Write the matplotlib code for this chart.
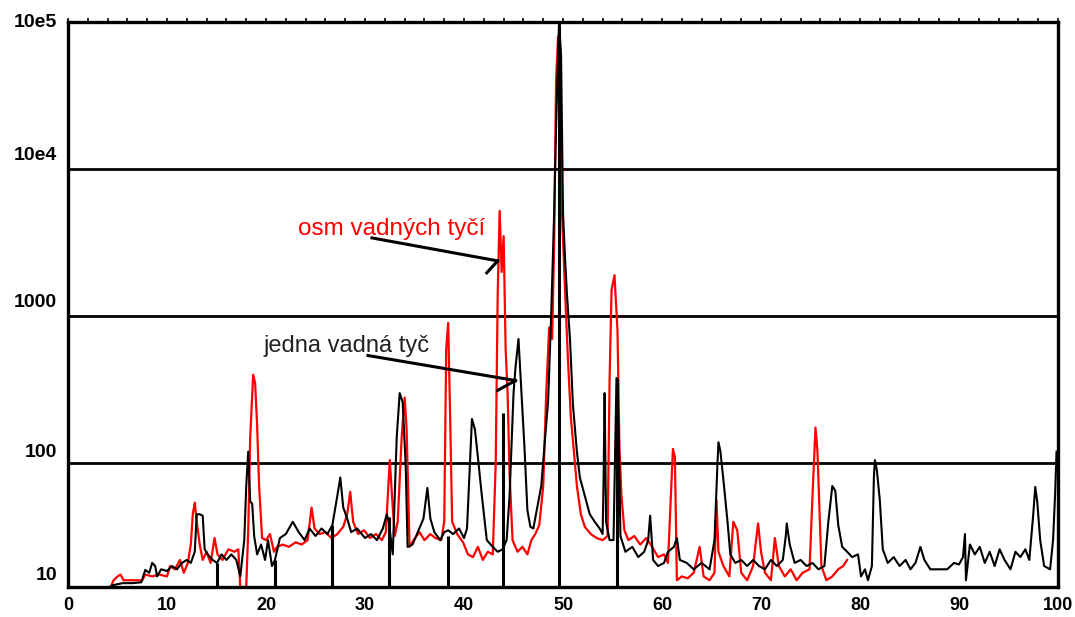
import matplotlib
matplotlib.use("Agg")
import matplotlib.pyplot as plt
from matplotlib.ticker import MultipleLocator, NullFormatter

plt.rcParams['font.family'] = ['Liberation Sans', 'DejaVu Sans']

# ---- data (frequency in Hz, amplitude) ----
black_x = [4.2, 4.5, 5.5, 6.5, 7.4, 7.8, 8.2, 8.5, 8.8, 9.0, 9.4, 10.0, 10.5, 11.0, 11.5, 12.0, 12.4, 12.8,
           13.0, 13.3, 13.6, 13.8, 14.1, 14.6, 15.05, 15.5, 16.0, 16.5, 17.0, 17.4, 17.8, 18.0, 18.2, 18.4,
           18.6, 18.8, 19.1, 19.5, 19.9, 20.2, 20.6, 20.9, 21.4, 22.0, 22.7, 23.3, 23.9, 24.4, 25.0, 25.6,
           26.2, 26.7, 27.2, 27.5, 27.8, 28.2, 28.6, 29.2, 30.0, 30.6, 31.2, 31.8, 32.2, 32.4, 32.8, 33.2,
           33.5, 33.8, 34.1, 34.3, 34.8, 35.4, 35.9, 36.3, 36.6, 37.0, 37.6, 38.0, 38.4, 38.9, 39.5, 40.0,
           40.3, 40.6, 40.8, 41.1, 41.4, 41.8, 42.3, 42.9, 43.4, 43.9, 44.3, 44.6, 45.0, 45.2, 45.5, 45.8,
           46.1, 46.4, 46.7, 47.0, 47.4, 47.8, 48.2, 48.5, 48.8, 49.1, 49.3, 49.6, 49.8, 50.0, 50.2, 50.4,
           50.7, 51.0, 51.4, 51.7, 52.2, 52.7, 53.2, 53.7, 54.0, 54.1, 54.2, 54.35, 54.7, 55.1, 55.4, 55.6,
           55.8, 56.3, 57.0, 57.6, 58.2, 58.6, 58.8, 59.1, 59.6, 60.2, 60.6, 61.2, 61.5, 61.8, 62.5, 63.2,
           64.0, 64.8, 65.3, 65.6, 65.7, 65.9, 66.2, 66.6, 66.9, 67.4, 68.0, 68.6, 69.2, 69.8, 70.4, 71.0,
           71.6, 72.2, 72.5, 72.6, 72.9, 73.4, 74.0, 74.6, 75.2, 75.8, 76.4, 76.8, 77.2, 77.5, 77.8, 78.2,
           78.7, 79.2, 79.8, 80.1, 80.5, 80.8, 81.2, 81.4, 81.5, 81.7, 82.0, 82.3, 82.8, 83.4, 84.0, 84.6,
           85.1, 85.6, 86.1, 86.5, 87.1, 88.0, 88.8, 89.5, 90.0, 90.4, 90.6, 90.7, 91.1, 91.6, 92.1, 92.6,
           93.1, 93.6, 94.1, 94.6, 95.2, 95.7, 96.2, 96.7, 97.1, 97.5, 97.7, 97.9, 98.2, 98.6, 99.2, 99.5,
           99.7, 99.85]
black_y = [14.4, 14.8, 15.3, 15.3, 15.5, 18.8, 18, 21, 20, 17, 19, 18.5, 20, 19, 21, 22, 21, 25,
           45, 45, 44, 26, 24, 22, 21, 24, 22, 24, 22, 17, 30, 70, 120, 55,
           53, 32, 24, 28, 22, 30, 20, 22, 31, 33, 40, 34, 30, 36, 32, 36,
           33, 38, 60, 80, 50, 42, 34, 36, 31, 33, 30, 36, 45, 40, 24, 150,
           300, 260, 100, 27, 28, 35, 42, 68, 42, 34, 30, 34, 35, 33, 36, 31,
           36, 100, 200, 170, 110, 60, 30, 27, 25, 26, 30, 60, 300, 450, 700, 300,
           130, 48, 37, 36, 50, 70, 150, 270, 1000, 5000, 20000, 100000, 60000, 5000, 2500, 1400,
           700, 250, 120, 80, 60, 45, 40, 36, 33, 80, 300, 40, 30, 30, 380, 200,
           32, 25, 27, 23, 25, 30, 44, 22, 20, 21, 25, 27, 31, 22, 21, 19,
           21, 19, 30, 100, 139, 120, 77, 41, 24, 21, 22, 20, 22, 20, 19, 22,
           20, 22, 32, 39, 28, 21, 22, 20, 21, 19, 20, 40, 70, 65, 38, 27,
           25, 23, 24, 17, 19, 16, 20, 80, 105, 90, 56, 26, 21, 23, 20, 22,
           19, 21, 27, 22, 19, 19, 19, 21, 20.5, 23, 33, 16, 28, 24, 27, 21,
           25, 20, 26, 22, 19, 25, 23, 26, 22, 45, 69, 55, 30, 20, 19, 30,
           60, 120]

red_x = [4.3, 4.6, 5.0, 5.3, 5.6, 6.5, 7.5, 7.8, 8.5, 9.2, 10.0, 10.3, 10.8, 11.3, 11.7, 12.1, 12.4, 12.6,
         12.8, 13.0, 13.3, 13.6, 14.0, 14.4, 14.8, 15.1, 15.6, 16.2, 16.8, 17.2, 17.4, 18.0, 18.2, 18.4,
         18.7, 18.9, 19.1, 19.3, 19.6, 20.0, 20.4, 20.8, 21.1, 21.7, 22.3, 23.0, 23.6, 24.2, 24.6, 24.9,
         25.4, 26.0, 26.6, 27.2, 27.8, 28.2, 28.5, 28.8, 29.3, 29.9, 30.5, 31.1, 31.7, 32.1, 32.5, 32.8,
         33.0, 33.3, 33.7, 34.0, 34.2, 34.5, 34.9, 35.5, 36.0, 36.6, 37.1, 37.7, 38.0, 38.2, 38.4, 38.6,
         38.8, 39.3, 39.9, 40.4, 40.9, 41.4, 41.9, 42.4, 42.9, 43.2, 43.4, 43.6, 43.8, 44.0, 44.2, 44.4,
         44.6, 44.9, 45.4, 45.9, 46.4, 46.8, 47.2, 47.6, 48.0, 48.3, 48.6, 48.9, 49.1, 49.3, 49.5, 49.7,
         49.9, 50.2, 50.5, 50.8, 51.1, 51.4, 51.8, 52.2, 52.8, 53.4, 54.0, 54.5, 54.7, 54.9, 55.2, 55.5,
         55.7, 55.9, 56.2, 56.6, 57.2, 57.8, 58.4, 59.0, 59.6, 60.2, 60.6, 60.9, 61.1, 61.3, 61.5, 62.0,
         62.6, 63.2, 63.8, 64.2, 64.8, 65.3, 65.5, 65.7, 66.2, 66.8, 67.2, 67.6, 68.0, 68.6, 69.2, 69.7,
         70.0, 70.4, 71.0, 71.4, 71.8, 72.4, 73.0, 73.6, 74.2, 74.9, 75.2, 75.5, 75.7, 75.9, 76.1, 76.6,
         77.2, 77.8, 78.3, 78.7]
red_y = [14.4, 16, 17, 17.5, 16, 16, 16, 17.5, 17, 17.5, 17, 20, 19, 22, 18, 21, 28, 45,
         54, 40, 28, 22, 25, 21, 31, 24, 22, 26, 25, 26, 14.4, 14.4, 35, 150,
         400, 350, 180, 70, 31, 30, 33, 25, 27, 28, 27, 29, 28, 30, 50, 36,
         33, 34, 31, 33, 37, 45, 64, 40, 33, 35, 31, 33, 30, 34, 105, 50,
         32, 40, 150, 280, 170, 27, 30, 34, 30, 33, 31, 30, 40, 600, 900, 200,
         40, 33, 29, 24, 23, 27, 22, 25, 24, 100, 1400, 5200, 2000, 3500, 600, 300,
         85, 30, 25, 27, 24, 30, 33, 38, 70, 300, 836, 700, 3000, 40000, 80000, 40000,
         5000, 1500, 500, 200, 120, 70, 45, 37, 33, 31, 30, 32, 360, 1500, 1900, 800,
         128, 60, 35, 30, 32, 28, 31, 27, 23, 24, 21, 60, 125, 110, 16, 17,
         16.5, 18, 27, 17, 16, 18, 56, 25, 20, 17, 40, 35, 18, 16, 20, 39,
         25, 18, 16, 31, 20, 17, 19, 16, 18, 19, 60, 175, 120, 50, 20, 16,
         17, 19, 20, 22]

# sideband marker frequencies and their heights
marker_x = [15.05, 20.9, 26.7, 32.4, 38.4, 43.9, 49.6, 55.5]
marker_y = [21, 22, 38, 43, 32, 220, 100000, 380]

x_ticks = [0, 10, 20, 30, 40, 50, 60, 70, 80, 90, 100]
y_levels = [14.4, 100, 1000, 10000, 100000]
y_labels = ["10", "100", "1000", "10e4", "10e5"]
y_label_offsets = [8.5, 8, 10, 9.5, 0]  # points upward

fig = plt.figure(figsize=(10.75, 6.17), dpi=100)
ax = fig.add_axes([0.0633, 0.0486, 0.9209, 0.9157])
ax.set_yscale('log')
ax.set_xlim(0, 100)
ax.set_ylim(y_levels[0], y_levels[-1])

# horizontal grid lines
for v in y_levels[1:-1]:
    ax.axhline(v, color='black', lw=2.0, zorder=1)

ax.plot(red_x, red_y, color='#ff0000', lw=1.6, zorder=2)
ax.plot(black_x, black_y, color='black', lw=1.5, zorder=3)
ax.vlines(marker_x, y_levels[0], marker_y, color='black', lw=2.2, zorder=4)

# axes styling
for s in ax.spines.values():
    s.set_linewidth(2.4)
    s.set_color('black')

ax.set_xticks(x_ticks)
ax.set_xticklabels([str(t) for t in x_ticks], fontsize=13, fontweight='bold')
ax.xaxis.set_minor_locator(MultipleLocator(2))
ax.xaxis.set_minor_formatter(NullFormatter())
ax.tick_params(axis='x', which='major', bottom=False, top=True, length=3, width=1.2, pad=4)
ax.tick_params(axis='x', which='minor', bottom=False, top=True, length=3, width=1.2)

ax.set_yticks([])
ax.yaxis.set_minor_locator(plt.NullLocator())
for v, lab, dy in zip(y_levels, y_labels, y_label_offsets):
    ax.annotate(lab, xy=(0, v), xycoords=('axes fraction', 'data'),
                xytext=(-8, dy), textcoords='offset points',
                ha='right', va='center', fontsize=14, fontweight='bold',
                annotation_clip=False)

# annotations
ax.text(23.2, 3900, "osm vadných tyčí", color='#ff0000', fontsize=17.5,
        ha='left', va='center')
ax.text(19.7, 630, "jedna vadná tyč", color='#222222', fontsize=17,
        ha='left', va='center')
ax.plot([30.7, 43.4], [3404, 2377], color='black', lw=2.2, zorder=5)
ax.plot([43.4, 42.3], [2377, 1972], color='black', lw=2.2, zorder=5)
ax.plot([30.3, 45.2], [540, 365], color='black', lw=2.2, zorder=5)
ax.plot([45.2, 43.4], [365, 313], color='black', lw=2.2, zorder=5)

fig.savefig("out.png", dpi=100)
